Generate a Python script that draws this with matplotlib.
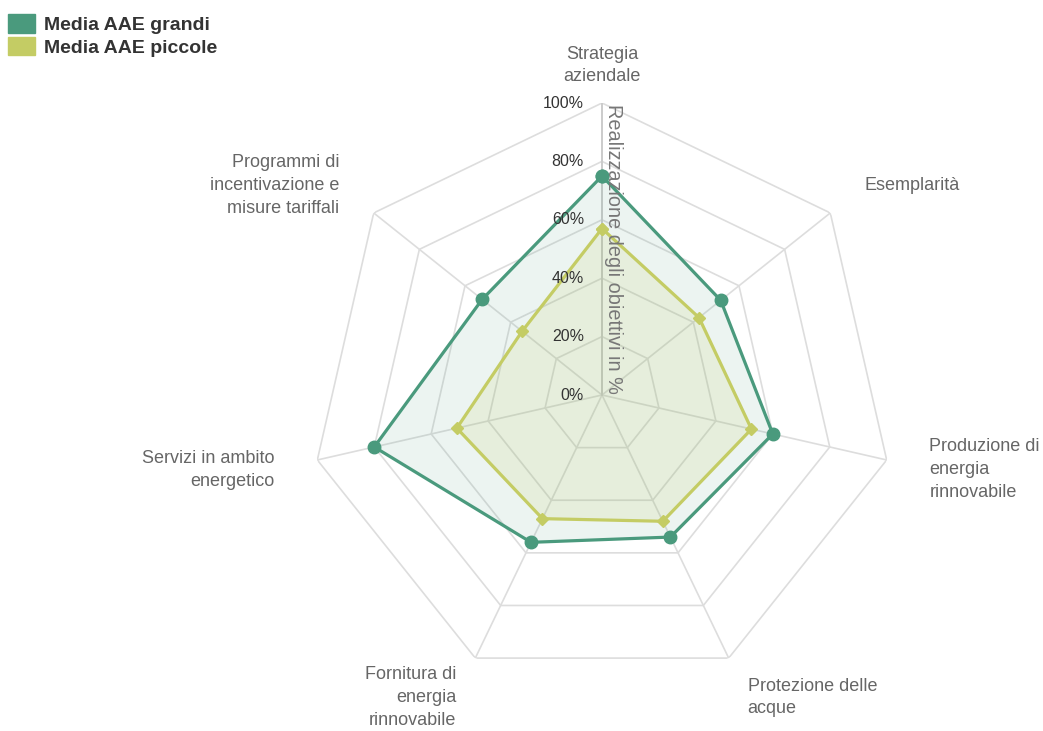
import numpy as np
import matplotlib
matplotlib.use("Agg")
import matplotlib.pyplot as plt
from matplotlib.patches import Patch
from matplotlib.transforms import ScaledTranslation

plt.rcParams["font.family"] = ["Liberation Sans", "DejaVu Sans"]

categories = [
    "Strategia\naziendale",
    "Esemplarità",
    "Produzione di\nenergia\nrinnovabile",
    "Protezione delle\nacque",
    "Fornitura di\nenergia\nrinnovabile",
    "Servizi in ambito\nenergetico",
    "Programmi di\nincentivazione e\nmisure tariffali",
]
grandi = [75, 52, 60, 54, 56, 80, 52.5]
piccole = [57, 42.5, 52.5, 48, 47, 51, 35]
ring_values = [20, 40, 60, 80, 100]
tick_values = [0, 20, 40, 60, 80, 100]

col_grandi = "#4a9a7d"
col_piccole = "#c4cc64"
grid_col = "#dddddd"

W, H = 1043, 731
fig = plt.figure(figsize=(W / 100, H / 100), dpi=100)

cx, cy, R = 602, 395, 292
ax = fig.add_axes([(cx - R) / W, (H - cy - R) / H, 2 * R / W, 2 * R / H],
                  projection="polar")
ax.set_theta_offset(np.pi / 2)
ax.set_theta_direction(-1)
ax.set_ylim(0, 100)
ax.grid(False)
ax.set_xticks([])
ax.set_yticks([])
ax.spines["polar"].set_visible(False)
ax.set_facecolor("none")

n = len(categories)
angles = np.arange(n) * 2 * np.pi / n
closed = np.append(angles, angles[0])

# heptagon grid
for r in ring_values:
    ax.plot(closed, [r] * (n + 1), color=grid_col, lw=1.2, zorder=1)
for a in angles:
    ax.plot([a, a], [0, 100], color=grid_col, lw=1.2, zorder=1)
ax.plot([0, 0], [0, 100], color="#c8c8c8", lw=1.2, zorder=1)

# series
g = np.append(grandi, grandi[0])
p = np.append(piccole, piccole[0])
ax.fill(closed, g, color=col_grandi, alpha=0.1, lw=0, zorder=2)
ax.fill(closed, p, color=col_piccole, alpha=0.15, lw=0, zorder=2)
ax.plot(closed, p, color=col_piccole, lw=2.3, marker="D", ms=6.5, zorder=3)
ax.plot(closed, g, color=col_grandi, lw=2.3, marker="o", ms=9, zorder=4)

# radial tick labels
off = ax.transData + ScaledTranslation(-18 / 100, 0, fig.dpi_scale_trans)
for v in tick_values:
    ax.text(0, v, f"{v}%", transform=off, ha="right", va="center",
            fontsize=11.5, color="#333333", zorder=5)

# axis title
off2 = ax.transData + ScaledTranslation(2 / 100, 0, fig.dpi_scale_trans)
ax.text(0, 99.5, "Realizzazione degli obiettivi in %", transform=off2,
        rotation=-90, ha="left", va="top", fontsize=14.3, color="#777777",
        zorder=5)

# category labels
for a, lab in zip(angles, categories):
    s = np.sin(a)
    if abs(s) < 0.1:
        ax.text(a, 106, lab, ha="center", va="bottom", ma="center",
                fontsize=13, color="#666666", clip_on=False, linespacing=1.45)
    elif s > 0:
        ax.text(a, 115, lab, ha="left", va="center", ma="left",
                fontsize=13, color="#666666", clip_on=False, linespacing=1.45)
    else:
        ax.text(a, 115, lab, ha="right", va="center", ma="right",
                fontsize=13, color="#666666", clip_on=False, linespacing=1.45)

handles = [Patch(color=col_grandi), Patch(color=col_piccole)]
fig.legend(handles, ["Media AAE grandi", "Media AAE piccole"],
           loc="upper left", bbox_to_anchor=(0.002, 0.989), frameon=False,
           prop={"weight": "bold", "size": 14}, labelcolor="#333333",
           handlelength=1.4, handleheight=1.1, handletextpad=0.45,
           labelspacing=0.15, borderaxespad=0, borderpad=0.3)

fig.savefig("out.png", dpi=100)
